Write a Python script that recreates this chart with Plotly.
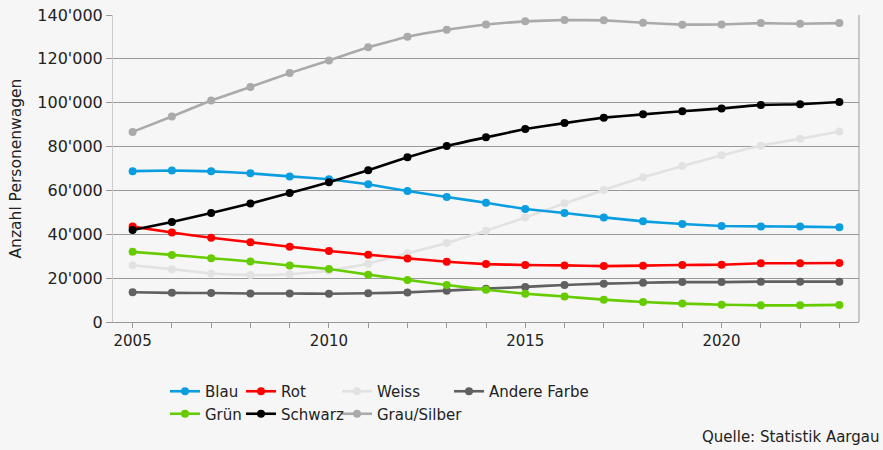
import plotly.graph_objects as go

years = list(range(2005, 2024))

blau = [68800, 69100, 68700, 67800, 66400, 65100, 62800, 59700, 57000, 54400,
        51500, 49700, 47700, 45900, 44700, 43800, 43600, 43500, 43200]
rot = [43500, 40800, 38400, 36400, 34300, 32400, 30700, 29000, 27500, 26400,
       26000, 25800, 25500, 25700, 26000, 26100, 26800, 26800, 26900]
weiss = [25900, 24100, 22100, 21400, 21800, 23400, 26600, 31300, 36000, 41600,
         47700, 54100, 60200, 66000, 71100, 76000, 80400, 83600, 86900]
andere = [13600, 13300, 13200, 13000, 13000, 12900, 13100, 13500, 14300, 15200,
          16000, 16900, 17500, 17900, 18200, 18200, 18400, 18400, 18400]
gruen = [32000, 30600, 29100, 27600, 25800, 24200, 21600, 19200, 16900, 14700,
         12900, 11600, 10200, 9100, 8400, 7900, 7600, 7600, 7800]
schwarz = [42000, 45600, 49700, 54000, 58800, 63700, 69200, 75100, 80300, 84200,
           88000, 90700, 93200, 94700, 96100, 97400, 99000, 99300, 100300]
grau = [86700, 93700, 101000, 107200, 113500, 119300, 125250, 130100, 133300, 135700,
        137100, 137700, 137560, 136500, 135600, 135700, 136300, 136000, 136300]

y_ticks = [0, 20000, 40000, 60000, 80000, 100000, 120000, 140000]
x_labels = {2005: "2005", 2010: "2010", 2015: "2015", 2020: "2020"}

FONT = "DejaVu Sans"
BG = "#f6f6f6"

# (name, values, colour, legend id, rank) ; drawing order = list order
series = [
    ("Weiss", weiss, "#e2e2e2", "legend3", 1),
    ("Grau/Silber", grau, "#aaaaaa", "legend3", 2),
    ("Andere Farbe", andere, "#606060", "legend4", 1),
    ("Grün", gruen, "#66cc00", "legend", 2),
    ("Rot", rot, "#ff0000", "legend2", 1),
    ("Blau", blau, "#0a9de0", "legend", 1),
    ("Schwarz", schwarz, "#000000", "legend2", 2),
]

fig = go.Figure()
for name, vals, col, leg, rank in series:
    fig.add_trace(go.Scatter(
        x=years, y=vals, name=name, mode="lines+markers",
        line=dict(color=col, width=2.6, shape="spline", smoothing=0.3),
        marker=dict(color=col, size=8),
        legend=leg, legendrank=rank,
        hoverinfo="x+y+name",
    ))

W, H = 883, 450
L, R, T, B = 113, 24, 15, 128
pw = W - L - R
ph = H - T - B

def lx(px):
    return (px - L) / pw

def ly(py):
    return (H - B - py) / ph

leg_common = dict(orientation="v", yanchor="top", xanchor="left",
                  bgcolor="rgba(0,0,0,0)", borderwidth=0,
                  font=dict(family=FONT, size=15, color="#222222"),
                  tracegroupgap=0, traceorder="normal")

fig.update_layout(
    width=W, height=H,
    margin=dict(l=L, r=R, t=T, b=B, autoexpand=False),
    paper_bgcolor=BG, plot_bgcolor=BG,
    separators=".'",
    font=dict(family=FONT, size=15, color="#222222"),
    legend=dict(x=lx(165), y=ly(375), **leg_common),
    legend2=dict(x=lx(241), y=ly(375), **leg_common),
    legend3=dict(x=lx(337), y=ly(375), **leg_common),
    legend4=dict(x=lx(449), y=ly(375), **leg_common),
    xaxis=dict(
        range=[2004.5, 2023.5],
        tickmode="array", tickvals=years,
        ticktext=[x_labels.get(y, "") for y in years],
        ticks="outside", ticklen=5, tickcolor="#999999",
        showline=True, linecolor="#999999", linewidth=1,
        showgrid=False, zeroline=False, automargin=False,
        tickfont=dict(family=FONT, size=15, color="#222222"),
    ),
    yaxis=dict(
        range=[0, 140000],
        tickmode="array", tickvals=y_ticks,
        ticks="outside", ticklen=6, tickcolor="#999999",
        tickformat=",d",
        showline=True, linecolor="#cccccc", linewidth=1,
        showgrid=True, gridcolor="#999999", gridwidth=1,
        zeroline=False, automargin=False,
        tickfont=dict(family=FONT, size=16, color="#222222"),
    ),
    shapes=[dict(type="line", xref="paper", yref="paper", x0=1, x1=1, y0=0, y1=1,
                 line=dict(color="#999999", width=1))],
    annotations=[
        dict(text="Anzahl Personenwagen", xref="paper", yref="paper",
             x=0, y=0.5, xshift=-(L - 15), xanchor="center", yanchor="middle",
             textangle=-90, showarrow=False,
             font=dict(family=FONT, size=15.5, color="#222222")),
        dict(text="Quelle: Statistik Aargau", xref="paper", yref="paper",
             x=1, y=ly(437), xshift=R - 2, xanchor="right", yanchor="middle",
             showarrow=False,
             font=dict(family=FONT, size=15, color="#222222")),
    ],
)

fig.write_html(
    "out.html",
    config={"displayModeBar": False},
    post_script="document.body.style.margin='0';document.body.style.overflow='hidden';",
)
